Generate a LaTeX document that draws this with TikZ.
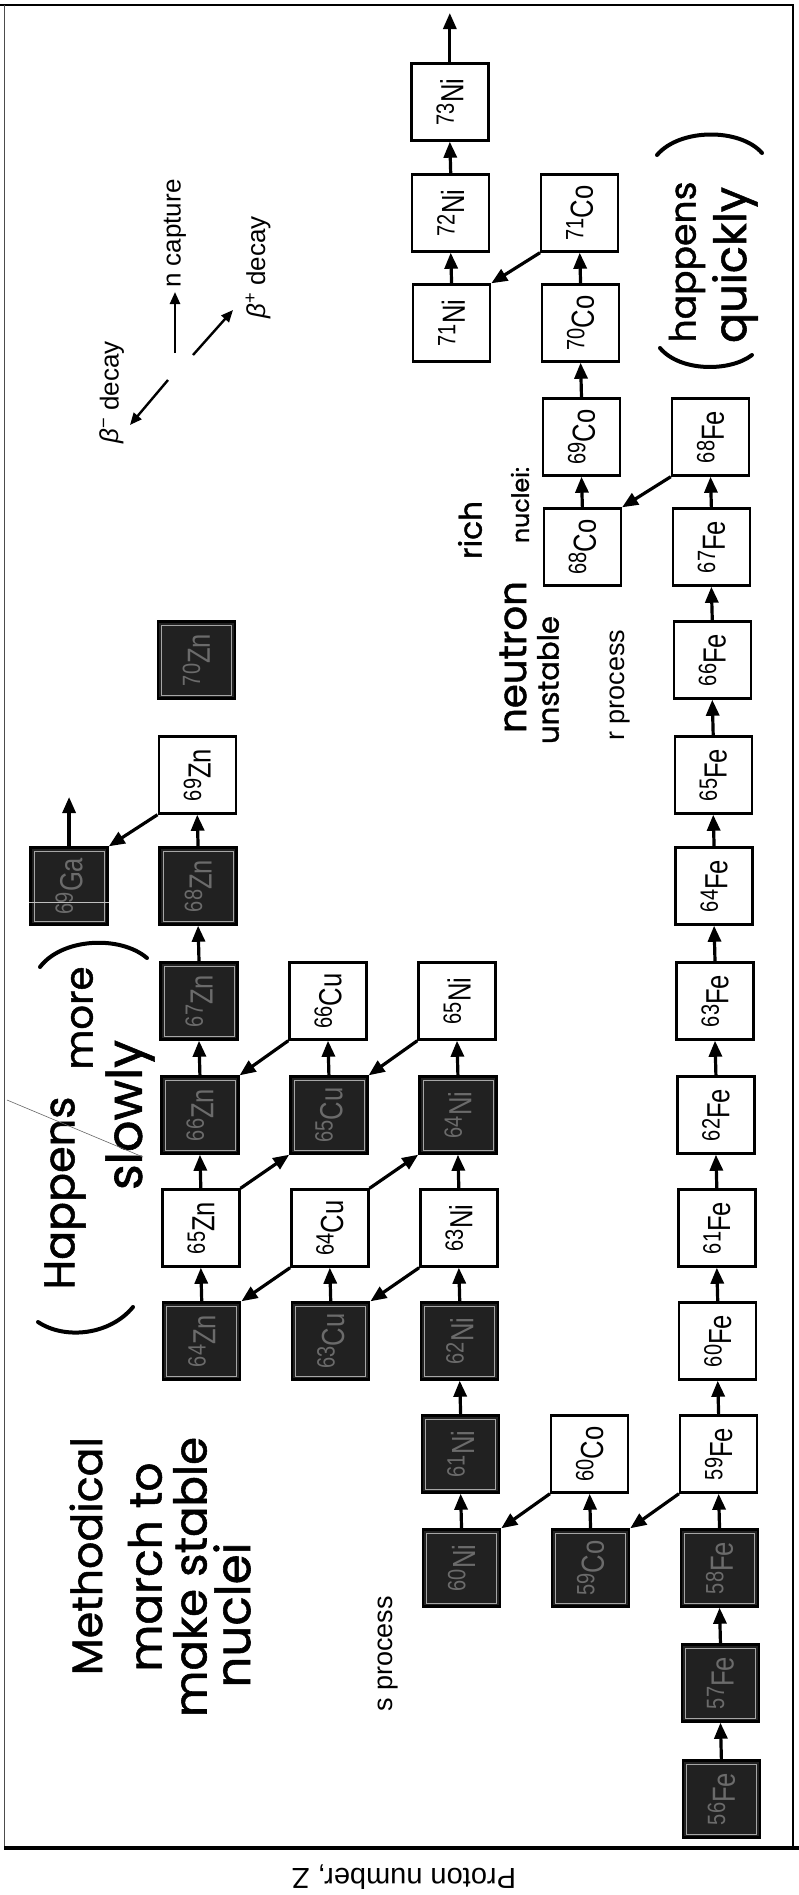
\documentclass[tikz,border=0pt]{standalone}
\usepackage{fontspec}
\usepackage{graphicx}
\setmainfont{Liberation Sans}
\newfontfamily\labf[FakeStretch=0.8]{Liberation Sans}
\newfontfamily\hand[FakeBold=1.2]{Poppins}
\usetikzlibrary{arrows.meta}

\newcommand\rowy[1]{\ifcase\numexpr#1-30\relax 1799\or 1683\or 1568\or 1454\or 1341\or 1228\or 1115\or 1001\or 886\or 775\or 660\or 547\or 437\or 323\or 213\or 102\fi}
\newcommand\nlabel[2]{\rotatebox{90}{\labf\fontsize{32}{32}\selectfont\raisebox{0.3em}{\fontsize{25}{25}\selectfont #1}#2}}
\newcommand\nuc[5]{%
  \pgfmathsetmacro\ny{\rowy{#3}}%
  \pgfmathsetmacro\nx{715-129*(#2-26)+0.008*(\ny-1000)}%
  \node[#1] (#5#4) at (\nx,\ny) {\nlabel{#4}{#5}};%
}
\newcommand\hw[2]{\resizebox{#1pt}{!}{\hand #2}}

\tikzset{
  nbox/.style={draw=black, line width=2.4pt, minimum width=77pt, minimum height=77pt,
    inner sep=0pt, fill=white, text=black},
  unst/.style={nbox},
  stab/.style={nbox, fill=black!87, text=black!58,
    path picture={\draw[black!35, line width=0.8pt]
      ([shift={(3.5pt,3.5pt)}]path picture bounding box.south west) rectangle
      ([shift={(-3.5pt,-3.5pt)}]path picture bounding box.north east);}},
  rx/.style={line width=3.2pt, -{Triangle[length=16pt,width=13pt]}},
  legarr/.style={line width=2.4pt, -{Triangle[length=12pt,width=10pt]}},
  legtext/.style={rotate=90, anchor=west, inner sep=2pt, font=\fontsize{26}{26}\selectfont},
  proc/.style={rotate=90, font=\fontsize{27}{27}\selectfont},
  hwtext/.style={inner sep=0pt, rotate=90},
  bracket/.style={line width=4pt, line cap=round},
}

\begin{document}
\begin{tikzpicture}[x=1pt,y=-1pt]
\useasboundingbox[fill=white] (0,0) rectangle (799,1895);
% frame
\draw[line width=1.3pt] (0,5) -- (793,5) -- (793,1848);
\draw[line width=0.9pt, black!70] (4,5) -- (4,1848);
\draw[line width=3.5pt] (4,1848) -- (799,1848);
\node[rotate=180, font=\fontsize{29}{29}\selectfont] (zlab) at (404,1877) {Proton number, Z};

% stable nuclei
\nuc{stab}{26}{30}{56}{Fe}
\nuc{stab}{26}{31}{57}{Fe}
\nuc{stab}{26}{32}{58}{Fe}
\nuc{stab}{27}{32}{59}{Co}
\nuc{stab}{28}{32}{60}{Ni}
\nuc{stab}{28}{33}{61}{Ni}
\nuc{stab}{28}{34}{62}{Ni}
\nuc{stab}{29}{34}{63}{Cu}
\nuc{stab}{30}{34}{64}{Zn}
\nuc{stab}{28}{36}{64}{Ni}
\nuc{stab}{29}{36}{65}{Cu}
\nuc{stab}{30}{36}{66}{Zn}
\nuc{stab}{30}{37}{67}{Zn}
\nuc{stab}{30}{38}{68}{Zn}
\nuc{stab}{31}{38}{69}{Ga}
\nuc{stab}{30}{40}{70}{Zn}
% unstable nuclei
\foreach \m [evaluate=\m as \n using int(\m-26)] in {59,...,68} {\nuc{unst}{26}{\n}{\m}{Fe}}
\nuc{unst}{27}{33}{60}{Co}
\nuc{unst}{28}{35}{63}{Ni}
\nuc{unst}{29}{35}{64}{Cu}
\nuc{unst}{30}{35}{65}{Zn}
\nuc{unst}{28}{37}{65}{Ni}
\nuc{unst}{29}{37}{66}{Cu}
\nuc{unst}{30}{39}{69}{Zn}
\nuc{unst}{27}{41}{68}{Co}
\nuc{unst}{27}{42}{69}{Co}
\nuc{unst}{27}{43}{70}{Co}
\nuc{unst}{27}{44}{71}{Co}
\nuc{unst}{28}{43}{71}{Ni}
\nuc{unst}{28}{44}{72}{Ni}
\nuc{unst}{28}{45}{73}{Ni}

\draw[white!75!black, line width=1pt] ([yshift=-56pt]Ga69.north west) -- ([yshift=-56pt]Ga69.north east);

% neutron captures
\foreach \a/\b in {Fe56/Fe57,Fe57/Fe58,Fe58/Fe59,Fe59/Fe60,Fe60/Fe61,Fe61/Fe62,Fe62/Fe63,
  Fe63/Fe64,Fe64/Fe65,Fe65/Fe66,Fe66/Fe67,Fe67/Fe68,Co59/Co60,Ni60/Ni61,Ni61/Ni62,
  Ni62/Ni63,Ni63/Ni64,Ni64/Ni65,Cu63/Cu64,Cu65/Cu66,Zn64/Zn65,Zn65/Zn66,Zn66/Zn67,
  Zn67/Zn68,Zn68/Zn69,Co68/Co69,Co69/Co70,Co70/Co71,Ni71/Ni72,Ni72/Ni73}
  \draw[rx] (\a.north) -- (\b.south);
\coordinate (niend) at (Ni73.north |- 0,13);
\coordinate (gaend) at (Ga69.north |- 0,797);
\draw[rx] (Ni73.north) -- (niend);
\draw[rx] (Ga69.north) -- (gaend);
% beta- decays
\foreach \a/\b in {Fe59/Co59,Co60/Ni60,Ni63/Cu63,Cu64/Zn64,Ni65/Cu65,Cu66/Zn66,
  Zn69/Ga69,Fe68/Co68,Co71/Ni71}
  \draw[rx] (\a.south west) -- (\b.north east);
% beta+ decays
\foreach \a/\b in {Cu64/Ni64,Zn65/Cu65}
  \draw[rx] (\a.north east) -- (\b.south west);

% legend
\coordinate (l0a) at (175,353); \coordinate (l1) at (175,292);
\coordinate (l0b) at (193,355); \coordinate (l2) at (233,310);
\coordinate (l0c) at (168,380); \coordinate (l3) at (130,425);
\draw[legarr] (l0a) -- (l1);
\draw[legarr] (l0b) -- (l2);
\draw[legarr] (l0c) -- (l3);
\node[legtext] (tn) at (175,290) {n capture};
\node[legtext] (tbp) at (258,321) {\textit{β}\textsuperscript{+} decay};
\node[legtext] (tbm) at (112,446) {\textit{β}\textsuperscript{−} decay};

% process labels
\node[proc] (rproc) at (620,685) {r process};
\node[proc] (sproc) at (388,1654) {s process};

% handwritten notes
\node[hwtext] (h1) at (86,1556) {\hw{238}{Methodical}};
\node[hwtext] (h2) at (145,1567) {\hw{209}{march to}};
\node[hwtext] (h3) at (190,1577) {\hw{280}{make stable}};
\node[hwtext] (h4) at (232,1615) {\hw{145}{nuclei}};

\node[hwtext] (h5) at (65,1193) {\hw{193}{Happens}};
\node[hwtext] (h6) at (82,1018) {\hw{103}{more}};
\node[hwtext] (h7) at (130,1115) {\hw{150}{slowly}};
\draw[bracket] (38,1322) .. controls (65,1340) and (110,1335) .. (133,1307);
\draw[bracket] (40,967) .. controls (62,938) and (120,935) .. (147,958);
\draw[black!60, line width=0.6pt] (7,1100) -- (143,1157);

\node[hwtext] (h8) at (687,262) {\hw{161}{happens}};
\node[hwtext] (h9) at (735,265) {\hw{156}{quickly}};
\draw[bracket] (657,155) .. controls (680,128) and (740,128) .. (762,153);
\draw[bracket] (660,348) .. controls (680,372) and (730,372) .. (752,355);

\node[hwtext] (h10) at (513,657) {\hw{152}{neutron}};
\node[hwtext] (h11) at (470,530) {\hw{58}{rich}};
\node[hwtext] (h12) at (548,680) {\hw{128}{unstable}};
\node[hwtext] (h13) at (520,505) {\hw{76}{nuclei:}};
\end{tikzpicture}
\end{document}
